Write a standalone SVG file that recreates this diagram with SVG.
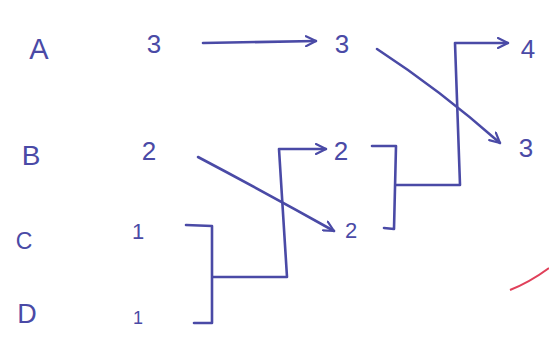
<svg xmlns="http://www.w3.org/2000/svg" width="549" height="338" viewBox="0 0 549 338">
<style>
  .t{font-family:"Liberation Sans","DejaVu Sans",sans-serif;fill:#4a4aa6;text-anchor:middle}
  .c{fill:none;stroke:#4a4aa6;stroke-width:2.6;stroke-linecap:round;stroke-linejoin:round}
</style>
<defs>
  <marker id="ah" viewBox="0 0 12 12" refX="11" refY="6" markerWidth="12" markerHeight="12" markerUnits="userSpaceOnUse" orient="auto">
    <polyline points="1,1 11,6 1,11" fill="none" stroke="#4a4aa6" stroke-width="2.2" stroke-linecap="round" stroke-linejoin="round"/>
  </marker>
</defs>
<rect width="549" height="338" fill="#ffffff"/>
<g id="labelA"><text class="t" x="39" y="59" font-size="29">A</text></g>
<g id="labelB"><text class="t" x="31" y="165" font-size="28">B</text></g>
<g id="labelC"><text class="t" x="24" y="249" font-size="23">C</text></g>
<g id="labelD"><text class="t" x="27" y="323" font-size="27">D</text></g>
<g id="a1"><text class="t" x="154" y="53" font-size="26">3</text></g>
<g id="b1"><text class="t" x="149" y="160" font-size="26">2</text></g>
<g id="c1"><text class="t" x="138" y="239" font-size="22">1</text></g>
<g id="d1"><text class="t" x="138" y="324" font-size="18">1</text></g>
<g id="a2"><text class="t" x="342" y="53" font-size="26">3</text></g>
<g id="b2"><text class="t" x="341" y="160" font-size="26">2</text></g>
<g id="c2"><text class="t" x="351" y="238" font-size="22">2</text></g>
<g id="a3"><text class="t" x="528" y="58" font-size="26">4</text></g>
<g id="b3"><text class="t" x="526" y="157" font-size="26">3</text></g>
<g id="connectors">
  <path class="c" d="M203,43 L316,41" marker-end="url(#ah)"/>
  <path class="c" d="M198,157 Q270,195 334,231" marker-end="url(#ah)"/>
  <path class="c" d="M377,49 Q440,90 500,143" marker-end="url(#ah)"/>
  <path class="c" d="M186,225 L212,226 L212,323 L194,323"/>
  <path class="c" d="M213,277 L287,277 L279,149 L326,149" marker-end="url(#ah)"/>
  <path class="c" d="M372,146 L396,146 L394,229 L384,228"/>
  <path class="c" d="M396,185 L460,185 L455,43 L508,43" marker-end="url(#ah)"/>
</g>
<path d="M510,290 Q530,282 549,268" fill="none" stroke="#e0405a" stroke-width="2"/>
</svg>
